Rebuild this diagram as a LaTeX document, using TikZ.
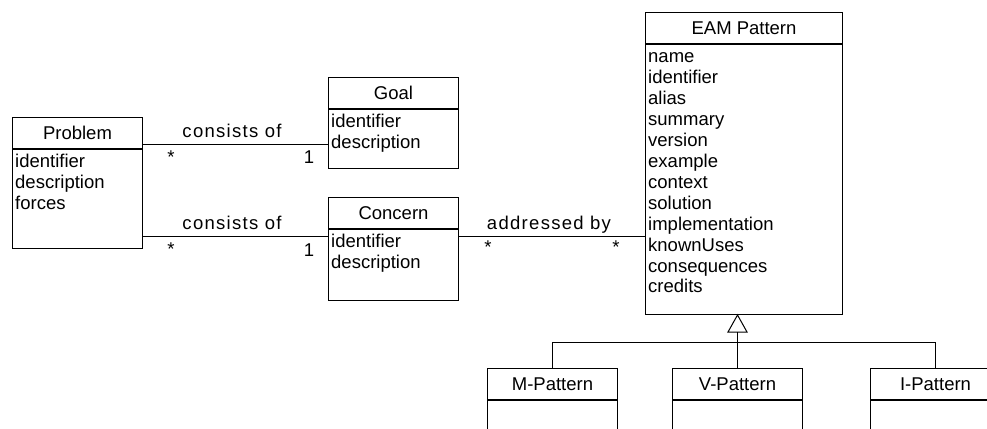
\documentclass[tikz,border=0pt]{standalone}
\usepackage{fontspec}
\setmainfont{Liberation Sans}
\newcommand\umlfont{\fontsize{18.5}{21}\selectfont}
\newcommand\lblfont{\fontsize{18.5}{21}\selectfont\addfontfeature{LetterSpace=7}}
\tikzset{
  ln/.style={line width=1pt, draw=black},
  head/.style={ln, rectangle, anchor=north west, inner sep=0pt, minimum width=#1,
    minimum height=31pt, text height=13.3pt, text depth=0pt, font=\umlfont},
  body/.style={ln, rectangle, anchor=north west, inner sep=0pt, minimum width=#1},
  attr/.style={anchor=base west, inner sep=0pt, font=\umlfont},
  lbl/.style={anchor=base, inner sep=0pt, font=\lblfont},
  mult/.style={anchor=base, inner sep=0pt, font=\umlfont},
}
\begin{document}
\begin{tikzpicture}[x=1pt, y=-1pt]
\useasboundingbox (0,0) rectangle (987,428);
\clip (0,0) rectangle (987,428);
\fill[white] (0,0) rectangle (987,428);

% Problem
\node[head=130pt] (prob) at (12,117) {Problem};
\node[body=130pt, minimum height=99pt] (probb) at (prob.south west) {};
\foreach \t [count=\i] in {identifier,description,forces}
  \node[attr] (prob\i) at (15,{167+21*(\i-1)}) {\t};

% Goal
\node[head=130pt] (goal) at (328,77) {Goal};
\node[body=130pt, minimum height=59pt] (goalb) at (goal.south west) {};
\foreach \t [count=\i] in {identifier,description}
  \node[attr] (goal\i) at (331,{127+21*(\i-1)}) {\t};

% Concern
\node[head=130pt] (conc) at (328,197) {Concern};
\node[body=130pt, minimum height=71pt] (concb) at (conc.south west) {};
\foreach \t [count=\i] in {identifier,description}
  \node[attr] (conc\i) at (331,{247+21*(\i-1)}) {\t};

% EAM Pattern
\node[head=197pt] (eam) at (645,12) {EAM Pattern};
\node[body=197pt, minimum height=270pt] (eamb) at (eam.south west) {};
\foreach \t [count=\i] in {name,identifier,alias,summary,version,example,context,solution,implementation,knownUses,consequences,credits}
  \node[attr] (eam\i) at (648,{63+20.9*(\i-1)}) {\t};

% Sub patterns
\node[head=130pt] (mp) at (487,368) {M-Pattern};
\node[body=130pt, minimum height=60pt] (mpb) at (mp.south west) {};
\node[head=130pt] (vp) at (672,368) {V-Pattern};
\node[body=130pt, minimum height=60pt] (vpb) at (vp.south west) {};
\node[head=130pt] (ip) at (870,368) {I-Pattern};
\node[body=130pt, minimum height=60pt] (ipb) at (ip.south west) {};

% Associations
\coordinate (y1) at (0,144);
\coordinate (y2) at (0,236);
\draw[ln] (prob.east |- y1) -- (goalb.west |- y1);
\draw[ln] (probb.east |- y2) -- (concb.west |- y2);
\draw[ln] (concb.east |- y2) -- (eamb.west |- y2);

\node[lbl] (l1) at (232,137) {consists of};
\node[lbl] (l2) at (232,229) {consists of};
\node[lbl] (l3) at (549,229) {addressed by};

\node[mult] (m1) at (171,163) {*};
\node[mult] (m2) at (309,163) {1};
\node[mult] (m3) at (171,255) {*};
\node[mult] (m4) at (309,256) {1};
\node[mult] (m5) at (488,253) {*};
\node[mult] (m6) at (616,253) {*};

% Generalization
\coordinate (apex) at (vp.north |- eamb.south);
\coordinate (bar) at (0,342);
\draw[ln, fill=white, line join=miter] (apex) -- ++(-9.5,17) -- ++(19,0) -- cycle;
\draw[ln] ([yshift=-17pt]apex) -- (vp.north);
\draw[ln] (mp.north) -- (mp.north |- bar) -- (ip.north |- bar) -- (ip.north);
\end{tikzpicture}
\end{document}
